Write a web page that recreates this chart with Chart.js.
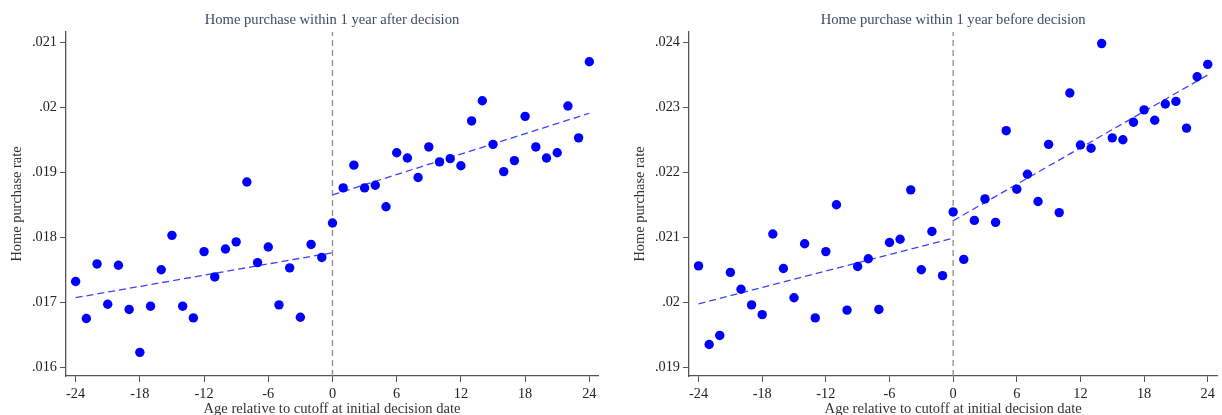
<!DOCTYPE html>
<html>
<head>
<meta charset="utf-8">
<script src="https://cdn.jsdelivr.net/npm/chart.js@4.4.1/dist/chart.umd.min.js"></script>
<style>
  html, body { margin: 0; padding: 0; background: #fff; overflow: hidden; }
  #wrap { position: relative; width: 1222px; height: 415px; overflow: hidden; }
  canvas { position: absolute; top: 0; }
  #cAfter { left: 0; }
  #cBefore { left: 623px; }
</style>
</head>
<body>
<div id="wrap">
  <canvas id="cAfter" width="611" height="420"></canvas>
  <canvas id="cBefore" width="599" height="420"></canvas>
</div>
<script>
// Age (months) relative to the cutoff, shared by both panels
const ages = [-24,-23,-22,-21,-20,-19,-18,-17,-16,-15,-14,-13,-12,-11,-10,-9,-8,-7,-6,-5,-4,-3,-2,-1,
              0,1,2,3,4,5,6,7,8,9,10,11,12,13,14,15,16,17,18,19,20,21,22,23,24];

// Binned home purchase rate, purchase within 1 year after the decision
const rateAfter = [
  0.01732,0.01675,0.01759,0.01697,0.01757,0.01689,0.01623,0.01694,0.01750,0.01803,0.01694,0.01676,
  0.01778,0.01739,0.01782,0.01793,0.01885,0.01761,0.01785,0.01696,0.01753,0.01677,0.01789,0.01769,
  0.01822,0.01876,0.01911,0.01876,0.01880,0.01847,0.01930,0.01922,0.01892,0.01939,0.01916,0.01921,
  0.01910,0.01979,0.02010,0.01943,0.01901,0.01918,0.01986,0.01939,0.01922,0.01930,0.02002,0.01953,
  0.02070
];

// Binned home purchase rate, purchase within 1 year before the decision
const rateBefore = [
  0.02056,0.01935,0.01949,0.02046,0.02020,0.01996,0.01981,0.02105,0.02052,0.02007,0.02090,0.01976,
  0.02078,0.02150,0.01988,0.02055,0.02067,0.01989,0.02092,0.02097,0.02173,0.02050,0.02109,0.02041,
  0.02139,0.02066,0.02126,0.02159,0.02123,0.02264,0.02174,0.02197,0.02155,0.02243,0.02138,0.02322,
  0.02242,0.02237,0.02398,0.02253,0.02250,0.02277,0.02296,0.02280,0.02305,0.02309,0.02268,0.02347,
  0.02366
];

// Linear fits on each side of the cutoff: [age, rate] end points
const fitAfterLeft   = [[-24, 0.017071], [0, 0.017763]];
const fitAfterRight  = [[0, 0.018651],   [24, 0.019908]];
const fitBeforeLeft  = [[-24, 0.019974], [0, 0.020985]];
const fitBeforeRight = [[0, 0.021255],   [24, 0.023497]];

// Axis ticks
const xTicks = [-24, -18, -12, -6, 0, 6, 12, 18, 24];
const xTickLabels = ['-24', '-18', '-12', '-6', '0', '6', '12', '18', '24'];
const yTicksAfter = [0.016, 0.017, 0.018, 0.019, 0.020, 0.021];
const yTickLabelsAfter = ['.016', '.017', '.018', '.019', '.02', '.021'];
const yTicksBefore = [0.019, 0.020, 0.021, 0.022, 0.023, 0.024];
const yTickLabelsBefore = ['.019', '.02', '.021', '.022', '.023', '.024'];

const titleAfter = 'Home purchase within 1 year after decision';
const titleBefore = 'Home purchase within 1 year before decision';
const xTitle = 'Age relative to cutoff at initial decision date';
const yTitle = 'Home purchase rate';

const SERIF = '"Liberation Serif", "DejaVu Serif", serif';
const AXIS = '#555555';

function toXY(xs, ys) { return xs.map((x, i) => ({ x: x, y: ys[i] })); }
function pairs(p) { return p.map(v => ({ x: v[0], y: v[1] })); }

function buildChart(canvas, cfg) {
  const fitStyle = {
    type: 'scatter', showLine: true, pointRadius: 0, borderColor: '#4040ff',
    borderWidth: 1.3, borderDash: [7, 4], fill: false, order: 2
  };
  return new Chart(canvas, {
    type: 'scatter',
    data: {
      datasets: [
        { data: toXY(ages, cfg.rates), pointRadius: 4.7, pointBackgroundColor: '#0000ff',
          pointBorderWidth: 0, borderColor: '#0000ff', order: 0 },
        Object.assign({ data: pairs(cfg.fitLeft) }, fitStyle),
        Object.assign({ data: pairs(cfg.fitRight) }, fitStyle),
        { type: 'scatter', showLine: true, pointRadius: 0, borderColor: '#8c8c8c',
          borderWidth: 1.3, borderDash: [6, 4],
          data: [{ x: 0, y: cfg.yMin }, { x: 0, y: cfg.yMax }], order: 3 }
      ]
    },
    options: {
      responsive: false, animation: false, devicePixelRatio: 1,
      layout: { padding: { left: 0, right: cfg.padRight, top: 0, bottom: 0 } },
      plugins: { legend: { display: false }, tooltip: { enabled: false } },
      scales: {
        // panel heading, centred over the plot region
        top: {
          type: 'linear', position: 'top', min: -24.9, max: cfg.xMax,
          afterFit: s => { s.height = 32; },
          ticks: { display: false },
          grid: { display: false },
          border: { display: false },
          title: { display: true, text: cfg.title, color: '#3f4a6b',
                   font: { family: SERIF, size: 14.6 }, padding: { top: 11.5, bottom: 0 } }
        },
        x: {
          type: 'linear', position: 'bottom', min: -24.9, max: cfg.xMax,
          afterBuildTicks: s => { s.ticks = xTicks.map(v => ({ value: v })); },
          afterFit: s => { s.height = 44; },
          ticks: {
            color: '#222', font: { family: SERIF, size: 14.3 }, padding: 4,
            maxRotation: 0, autoSkip: false,
            callback: v => xTickLabels[xTicks.indexOf(v)]
          },
          grid: { display: true, drawOnChartArea: false, drawTicks: true, tickLength: 6, color: AXIS },
          border: { display: true, color: AXIS, width: 1.3 },
          title: { display: true, text: xTitle, color: '#333',
                   font: { family: SERIF, size: 14.6 }, padding: { top: 0, bottom: 2.5 } }
        },
        y: {
          type: 'linear', min: cfg.yMin, max: cfg.yMax,
          afterBuildTicks: s => { s.ticks = cfg.yTicks.map(v => ({ value: v })); },
          afterFit: s => { s.width = 66; },
          ticks: {
            color: '#222', font: { family: SERIF, size: 14.3 }, padding: 3,
            callback: v => cfg.yLabels[cfg.yTicks.indexOf(v)]
          },
          grid: { display: true, drawOnChartArea: false, drawTicks: true, tickLength: 6, color: AXIS },
          border: { display: true, color: AXIS, width: 1.3 },
          title: { display: true, text: yTitle, color: '#333',
                   font: { family: SERIF, size: 14.4 }, padding: { top: 8.5, bottom: 0 } }
        }
      }
    }
  });
}

buildChart(document.getElementById('cAfter'), {
  rates: rateAfter, fitLeft: fitAfterLeft, fitRight: fitAfterRight,
  title: titleAfter, yTicks: yTicksAfter, yLabels: yTickLabelsAfter,
  yMin: 0.015866, yMax: 0.021158, xMax: 24.81, padRight: 13
});

buildChart(document.getElementById('cBefore'), {
  rates: rateBefore, fitLeft: fitBeforeLeft, fitRight: fitBeforeRight,
  title: titleBefore, yTicks: yTicksBefore, yLabels: yTickLabelsBefore,
  yMin: 0.018866, yMax: 0.024158, xMax: 24.9, padRight: 0
});
</script>
</body>
</html>
